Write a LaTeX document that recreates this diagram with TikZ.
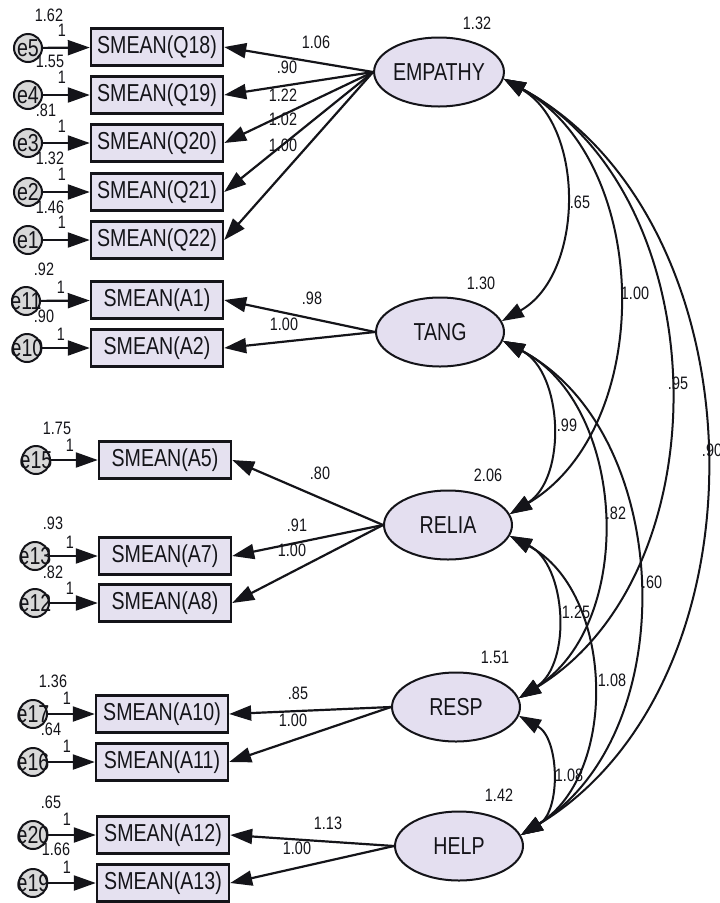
\documentclass[tikz,border=0pt]{standalone}
\usepackage{fontspec}
\setmainfont{Liberation Sans}
\newfontfamily\amos[FakeStretch=0.8]{Liberation Sans}
\usetikzlibrary{arrows.meta,shapes.geometric}
\definecolor{Ink}{RGB}{20,20,25}
\definecolor{ObsFill}{RGB}{229,225,240}
\definecolor{LatFill}{RGB}{228,223,240}
\definecolor{ErrFill}{RGB}{216,216,216}
\tikzset{
  >={Triangle[length=22pt,width=15pt]},
  bigtxt/.style={font=\amos\fontsize{24.5}{26}\selectfont,text=Ink},
  obs/.style={bigtxt,draw=Ink,line width=2.4pt,fill=ObsFill,minimum width=132pt,minimum height=37pt,inner sep=0pt},
  latent/.style={bigtxt,ellipse,draw=Ink,line width=2pt,fill=LatFill,minimum width=128pt,minimum height=69pt,inner sep=0pt},
  errc/.style={circle,draw=Ink,line width=2pt,fill=ErrFill,minimum size=28pt,inner sep=0pt,label={[bigtxt,inner sep=0pt]center:#1}},
  est/.style={font=\amos\fontsize{18}{19}\selectfont,text=Ink,inner sep=0pt},
  load/.style={->,line width=2.2pt,draw=Ink},
  cov/.style={<->,line width=2pt,draw=Ink,bend left=60}
}

\begin{document}
\begin{tikzpicture}[x=1pt,y=-1pt]
  \useasboundingbox[fill=white] (0,0) rectangle (720,903);

  % latent factors
  \node[latent] (emp) at (439,72) {EMPATHY};
  \node[latent] (tang) at (440,332) {TANG};
  \node[latent] (relia) at (448,525) {RELIA};
  \node[latent] (resp) at (456,707) {RESP};
  \node[latent] (help) at (459,846) {HELP};
  \node[est] (vemp) at (477,23) {1.32};
  \node[est] (vtang) at (481,283) {1.30};
  \node[est] (vrelia) at (488,475) {2.06};
  \node[est] (vresp) at (495,657) {1.51};
  \node[est] (vhelp) at (499,795) {1.42};

  % observed items
  \node[obs] (q18) at (157,47) {SMEAN(Q18)};
  \node[obs] (q19) at (157,95) {SMEAN(Q19)};
  \node[obs] (q20) at (157,143) {SMEAN(Q20)};
  \node[obs] (q21) at (157,192) {SMEAN(Q21)};
  \node[obs] (q22) at (157,240) {SMEAN(Q22)};
  \node[obs] (a1) at (157,300) {SMEAN(A1)};
  \node[obs] (a2) at (157,348) {SMEAN(A2)};
  \node[obs] (a5) at (165,460) {SMEAN(A5)};
  \node[obs] (a7) at (165,556) {SMEAN(A7)};
  \node[obs] (a8) at (165,603) {SMEAN(A8)};
  \node[obs] (a10) at (162,714) {SMEAN(A10)};
  \node[obs] (a11) at (162,762) {SMEAN(A11)};
  \node[obs] (a12) at (163,835) {SMEAN(A12)};
  \node[obs] (a13) at (163,883) {SMEAN(A13)};

  % error terms
  \node[errc=e5] (e5) at (28,48) {};
  \node[errc=e4] (e4) at (28,95) {};
  \node[errc=e3] (e3) at (28,143) {};
  \node[errc=e2] (e2) at (28,192) {};
  \node[errc=e1] (e1) at (28,240) {};
  \node[errc=e11] (e11) at (26,301) {};
  \node[errc=e10] (e10) at (27,348) {};
  \node[errc=e15] (e15) at (36,460) {};
  \node[errc=e13] (e13) at (35,556) {};
  \node[errc=e12] (e12) at (35,603) {};
  \node[errc=e17] (e17) at (33,714) {};
  \node[errc=e16] (e16) at (33,762) {};
  \node[errc=e20] (e20) at (33,835) {};
  \node[errc=e19] (e19) at (33,883) {};

  \draw[load] (e5) -- (q18);
  \draw[load] (e4) -- (q19);
  \draw[load] (e3) -- (q20);
  \draw[load] (e2) -- (q21);
  \draw[load] (e1) -- (q22);
  \draw[load] (e11) -- (a1);
  \draw[load] (e10) -- (a2);
  \draw[load] (e15) -- (a5);
  \draw[load] (e13) -- (a7);
  \draw[load] (e12) -- (a8);
  \draw[load] (e17) -- (a10);
  \draw[load] (e16) -- (a11);
  \draw[load] (e20) -- (a12);
  \draw[load] (e19) -- (a13);

  % error variances and fixed weights
  \node[est] (ve5) at (49,15) {1.62};   \node[est] (we5) at (62,30) {1};
  \node[est] (ve4) at (50,61) {1.55};   \node[est] (we4) at (62,77) {1};
  \node[est] (ve3) at (46,110) {.81};   \node[est] (we3) at (62,126) {1};
  \node[est] (ve2) at (50,158) {1.32};  \node[est] (we2) at (62,174) {1};
  \node[est] (ve1) at (50,207) {1.46};  \node[est] (we1) at (62,222) {1};
  \node[est] (ve11) at (44,269) {.92};  \node[est] (we11) at (61,287) {1};
  \node[est] (ve10) at (44,316) {.90};  \node[est] (we10) at (61,334) {1};
  \node[est] (ve15) at (57,428) {1.75}; \node[est] (we15) at (70,445) {1};
  \node[est] (ve13) at (53,523) {.93};  \node[est] (we13) at (70,542) {1};
  \node[est] (ve12) at (53,572) {.82};  \node[est] (we12) at (70,588) {1};
  \node[est] (ve17) at (53,681) {1.36}; \node[est] (we17) at (67,698) {1};
  \node[est] (ve16) at (51,729) {.64};  \node[est] (we16) at (67,746) {1};
  \node[est] (ve20) at (51,802) {.65};  \node[est] (we20) at (67,819) {1};
  \node[est] (ve19) at (56,849) {1.66}; \node[est] (we19) at (67,867) {1};

  % factor loadings
  \draw[load] (emp.west) -- (q18.east);
  \draw[load] (emp.west) -- (q19.east);
  \draw[load] (emp.west) -- (q20.east);
  \draw[load] (emp.west) -- (q21.east);
  \draw[load] (emp.west) -- (q22.east);
  \draw[load] (tang.west) -- (a1.east);
  \draw[load] (tang.west) -- (a2.east);
  \draw[load] (relia.west) -- (a5.east);
  \draw[load] (relia.west) -- (a7.east);
  \draw[load] (relia.west) -- (a8.east);
  \draw[load] (resp.west) -- (a10.east);
  \draw[load] (resp.west) -- (a11.east);
  \draw[load] (help.west) -- (a12.east);
  \draw[load] (help.west) -- (a13.east);
  \node[est] (lq18) at (316,42) {1.06};
  \node[est] (lq19) at (287,67) {.90};
  \node[est] (lq20) at (283,95) {1.22};
  \node[est] (lq21) at (283,119) {1.02};
  \node[est] (lq22) at (283,145) {1.00};
  \node[est] (la1) at (312,298) {.98};
  \node[est] (la2) at (284,324) {1.00};
  \node[est] (la5) at (320,473) {.80};
  \node[est] (la7) at (297,525) {.91};
  \node[est] (la8) at (292,550) {1.00};
  \node[est] (la10) at (298,693) {.85};
  \node[est] (la11) at (293,720) {1.00};
  \node[est] (la12) at (328,823) {1.13};
  \node[est] (la13) at (297,848) {1.00};

  % factor covariances
  \draw[cov] (emp.-6) to (tang.10);
  \draw[cov] (emp.-6) to (relia.10);
  \draw[cov] (emp.-6) to (resp.8);
  \draw[cov] (emp.-6) to (help.10);
  \draw[cov] (tang.-8) to (relia.10);
  \draw[cov] (tang.-8) to (resp.8);
  \draw[cov] (tang.-8) to (help.10);
  \draw[cov] (relia.-10) to (resp.8);
  \draw[cov] (relia.-10) to (help.10);
  \draw[cov] (resp.-8) to (help.10);
  \node[est] (c12) at (580,202) {.65};
  \node[est] (c13) at (635,293) {1.00};
  \node[est] (c14) at (678,383) {.95};
  \node[est] (c15) at (712,450) {.90};
  \node[est] (c23) at (567,425) {.99};
  \node[est] (c24) at (616,513) {.82};
  \node[est] (c25) at (652,582) {.60};
  \node[est] (c34) at (576,612) {1.25};
  \node[est] (c35) at (612,680) {1.08};
  \node[est] (c45) at (569,775) {1.08};
\end{tikzpicture}
\end{document}
